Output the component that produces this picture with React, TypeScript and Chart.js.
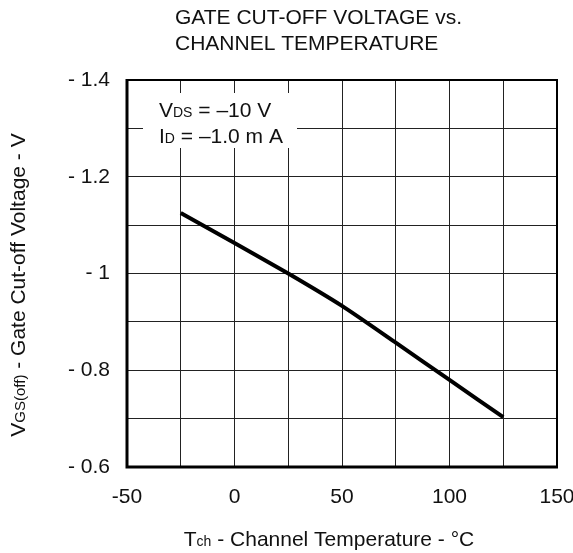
import React, { useEffect, useRef } from "react";
import { Chart, registerables } from "chart.js";

Chart.register(...registerables);

const FONT = '"Liberation Sans", Arial, Helvetica, sans-serif';

// Channel temperature (°C)
const temperatures = [-25, 0, 25, 50, 75, 100, 125];
// Gate cut-off voltage VGS(off) (V)
const vgsOff = [-1.125, -1.063, -1.0, -0.933, -0.857, -0.78, -0.703];

const xMin = -50;
const xMax = 150;
const xStep = 25;
const yMin = -1.4;
const yMax = -0.6;
const yStep = 0.1;

const titleLines = ["GATE CUT-OFF VOLTAGE vs.", "CHANNEL TEMPERATURE"];

type Run = { t: string; s: number };

function drawRuns(ctx: CanvasRenderingContext2D, runs: Run[], x: number, y: number, align: "left" | "center" = "left") {
  let total = 0;
  for (const r of runs) {
    ctx.font = `${r.s}px ${FONT}`;
    total += ctx.measureText(r.t).width;
  }
  let cx = align === "center" ? x - total / 2 : x;
  ctx.textAlign = "left";
  ctx.textBaseline = "alphabetic";
  for (const r of runs) {
    ctx.font = `${r.s}px ${FONT}`;
    ctx.fillText(r.t, cx, y);
    cx += ctx.measureText(r.t).width;
  }
}

const decorPlugin = {
  id: "decor",
  beforeDatasetsDraw(chart: any) {
    const ctx = chart.ctx as CanvasRenderingContext2D;
    const a = chart.chartArea;
    ctx.save();
    // condition box
    ctx.fillStyle = "#ffffff";
    ctx.fillRect(a.left + 16, a.top + 13, 154, 55);
    ctx.fillStyle = "#111";
    drawRuns(ctx, [{ t: "V", s: 21 }, { t: "DS", s: 14 }, { t: " = \u201310 V", s: 21 }], a.left + 32, a.top + 37);
    drawRuns(ctx, [{ t: "I", s: 21 }, { t: "D", s: 14 }, { t: " = \u20131.0 m A", s: 21 }], a.left + 32, a.top + 63);
    ctx.restore();
  },
  afterDraw(chart: any) {
    const ctx = chart.ctx as CanvasRenderingContext2D;
    const a = chart.chartArea;
    ctx.save();
    // frame
    ctx.strokeStyle = "#000";
    ctx.lineWidth = 2;
    ctx.beginPath();
    ctx.moveTo(a.left, a.top);
    ctx.lineTo(a.right, a.top);
    ctx.lineTo(a.right, a.bottom);
    ctx.stroke();
    ctx.lineWidth = 3;
    ctx.beginPath();
    ctx.moveTo(a.left, a.top - 1);
    ctx.lineTo(a.left, a.bottom);
    ctx.lineTo(a.right + 1, a.bottom);
    ctx.stroke();

    ctx.fillStyle = "#111";
    // title
    ctx.font = `21px ${FONT}`;
    ctx.textAlign = "left";
    ctx.textBaseline = "alphabetic";
    ctx.fillText(titleLines[0], 175, 24);
    ctx.fillText(titleLines[1], 175, 50);
    // x axis title
    drawRuns(ctx, [{ t: "T", s: 21 }, { t: "ch", s: 14 }, { t: " - Channel Temperature - \u00B0C", s: 21 }], 329, 546, "center");
    // y axis title
    ctx.translate(25, 285);
    ctx.rotate(-Math.PI / 2);
    drawRuns(ctx, [{ t: "V", s: 21 }, { t: "GS(off)", s: 15 }, { t: " - Gate Cut-off Voltage - V", s: 21 }], 0, 0, "center");
    ctx.restore();
  },
};

export default function App() {
  const ref = useRef<HTMLCanvasElement | null>(null);
  useEffect(() => {
    if (!ref.current) return;
    const chart = new Chart(ref.current, {
      type: "line",
      data: {
        datasets: [
          {
            data: temperatures.map((t, i) => ({ x: t, y: vgsOff[i] })),
            borderColor: "#000",
            borderWidth: 4,
            pointRadius: 0,
            tension: 0.2,
            fill: false,
          },
        ],
      },
      options: {
        responsive: false,
        animation: false,
        layout: { padding: { left: 0, top: 80, right: 16, bottom: 0 } },
        plugins: { legend: { display: false }, tooltip: { enabled: false }, title: { display: false } },
        scales: {
          x: {
            type: "linear",
            min: xMin,
            max: xMax,
            grid: { color: "#222", lineWidth: 1, drawTicks: false },
            border: { display: false },
            ticks: {
              stepSize: xStep,
              padding: 18,
              color: "#111",
              font: { size: 21, family: FONT },
              maxRotation: 0,
              autoSkip: false,
              callback: (v: any) => (Math.round(Number(v)) % 50 === 0 ? String(Math.round(Number(v))) : ""),
            },
            afterFit: (s: any) => {
              s.height = 86;
              s.paddingLeft = 0;
              s.paddingRight = 0;
            },
          },
          y: {
            type: "linear",
            min: yMin,
            max: yMax,
            reverse: true,
            grid: { color: "#222", lineWidth: 1, drawTicks: false },
            border: { display: false },
            ticks: {
              stepSize: yStep,
              padding: 17,
              color: "#111",
              font: { size: 21, family: FONT },
              autoSkip: false,
              callback: (v: any) => {
                const n = Math.round(Number(v) * 10);
                if (n % 2 !== 0) return "";
                return "- " + String(Math.abs(n) / 10);
              },
            },
            afterFit: (s: any) => {
              s.width = 127;
              s.paddingTop = 0;
              s.paddingBottom = 0;
            },
          },
        },
      },
      plugins: [decorPlugin],
    });
    return () => chart.destroy();
  }, []);
  return (
    <div style={{ position: "fixed", left: 0, top: 0, width: 573, height: 553, background: "#fff" }}>
      <canvas ref={ref} width={573} height={553} style={{ display: "block", width: 573, height: 553 }} />
    </div>
  );
}
